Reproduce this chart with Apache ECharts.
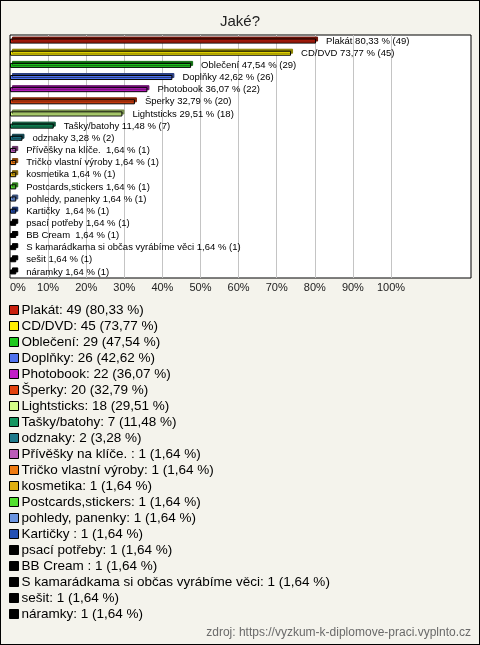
<!DOCTYPE html>
<html>
<head>
<meta charset="utf-8">
<script src="https://cdn.jsdelivr.net/npm/echarts@6/dist/echarts.min.js"></script>
<style>
html,body{margin:0;padding:0;background:#f4f3ec;}
#c{width:480px;height:645px;box-sizing:border-box;border:1px solid #000;background:#f4f3ec;}
</style>
</head>
<body>
<div id="c"></div>
<script>
// ---- data ----
const titleText = 'Jaké?';
const sourceText = 'zdroj: https://vyzkum-k-diplomove-praci.vyplnto.cz';
const categories = ['Plakát', 'CD/DVD', 'Oblečení', 'Doplňky', 'Photobook', 'Šperky', 'Lightsticks',
  'Tašky/batohy', 'odznaky', 'Přívěšky na klíče. ', 'Tričko vlastní výroby', 'kosmetika',
  'Postcards,stickers', 'pohledy, panenky', 'Kartičky ', 'psací potřeby', 'BB Cream ',
  'S kamarádkama si občas vyrábíme věci', 'sešit', 'náramky'];
const counts = [49, 45, 29, 26, 22, 20, 18, 7, 2, 1, 1, 1, 1, 1, 1, 1, 1, 1, 1, 1];
const percents = [80.33, 73.77, 47.54, 42.62, 36.07, 32.79, 29.51, 11.48, 3.28, 1.64,
  1.64, 1.64, 1.64, 1.64, 1.64, 1.64, 1.64, 1.64, 1.64, 1.64];
const tickLabels = ['0%', '10%', '20%', '30%', '40%', '50%', '60%', '70%', '80%', '90%', '100%'];
const colors = ['#c8200e', '#ffee00', '#1ec81e', '#4f72ee', '#c21dc8', '#e2420e', '#d4ff88',
  '#149560', '#1e7a8c', '#bb5cb9', '#ef7b12', '#e0b010', '#52e030', '#6a94e0', '#2450b4',
  '#000000', '#000000', '#000000', '#000000', '#000000'];

function fmt(p) { return p.toFixed(2).replace('.', ','); }
function darken(hex, f) {
  const n = parseInt(hex.slice(1), 16);
  const r = Math.round(((n >> 16) & 255) * f), g = Math.round(((n >> 8) & 255) * f), b = Math.round((n & 255) * f);
  return 'rgb(' + r + ',' + g + ',' + b + ')';
}
const FONT = 'Liberation Sans, Arial, sans-serif';

const series = categories.map((name, i) => ({
  name: name,
  type: 'bar',
  stack: 'all',
  barWidth: 5,
  data: categories.map((c, j) => j === i ? percents[i] : '-'),
  itemStyle: {
    color: colors[i],
    borderColor: '#000',
    borderWidth: 1,
    shadowColor: darken(colors[i], 0.55),
    shadowOffsetX: 2,
    shadowOffsetY: -2,
    shadowBlur: 0
  },
  label: {
    show: true,
    position: 'right',
    distance: 10,
    color: '#000',
    fontSize: 9.5,
    fontFamily: FONT,
    formatter: () => name + ' ' + fmt(percents[i]) + ' % (' + counts[i] + ')'
  },
  emphasis: { disabled: true },
  animation: false
}));

const splitColors = ['transparent'];
for (let k = 1; k < tickLabels.length; k++) splitColors.push('#c4c4c4');
splitColors.push('transparent', 'transparent', 'transparent');

const chart = echarts.init(document.getElementById('c'), null, { renderer: 'canvas' });
chart.setOption({
  backgroundColor: '#f4f3ec',
  animation: false,
  title: [{
    text: titleText, left: 'center', top: 8,
    textStyle: { fontSize: 15, fontWeight: 'normal', color: '#222', fontFamily: FONT }
  }, {
    text: sourceText, right: 8, bottom: 5, padding: 0,
    textStyle: { fontSize: 12, fontWeight: 'normal', color: '#6a6a6a', fontFamily: FONT }
  }],
  grid: {
    left: 9, top: 34, width: 461, height: 243,
    show: true, backgroundColor: '#ffffff', borderColor: '#000', borderWidth: 1
  },
  xAxis: {
    type: 'value', min: 0, max: 121, interval: 10,
    axisLine: { show: false }, axisTick: { show: false },
    splitLine: { show: true, lineStyle: { color: splitColors, width: 1 } },
    axisLabel: {
      margin: 4, fontSize: 11, color: '#222', alignMinLabel: 'left',
      fontFamily: FONT,
      formatter: v => { const k = Math.round(v / 10); return (v % 10 === 0 && k < tickLabels.length) ? tickLabels[k] : ''; }
    }
  },
  yAxis: {
    type: 'category', data: categories, inverse: true,
    axisLine: { show: false }, axisTick: { show: false }, axisLabel: { show: false }, splitLine: { show: false }
  },
  legend: {
    orient: 'vertical', left: 8, top: 302, padding: 0,
    itemWidth: 9, itemHeight: 9, itemGap: 2,
    icon: 'rect',
    selectedMode: false,
    itemStyle: { borderColor: '#000', borderWidth: 1, shadowColor: 'transparent', shadowOffsetX: 0, shadowOffsetY: 0 },
    textStyle: { fontSize: 13.5, lineHeight: 14, color: '#000', fontFamily: FONT, padding: [0, 0, 0, -2] },
    data: categories,
    formatter: name => { const i = categories.indexOf(name); return name + ': ' + counts[i] + ' (' + fmt(percents[i]) + ' %)'; }
  },
  series: series
});
</script>
</body>
</html>
